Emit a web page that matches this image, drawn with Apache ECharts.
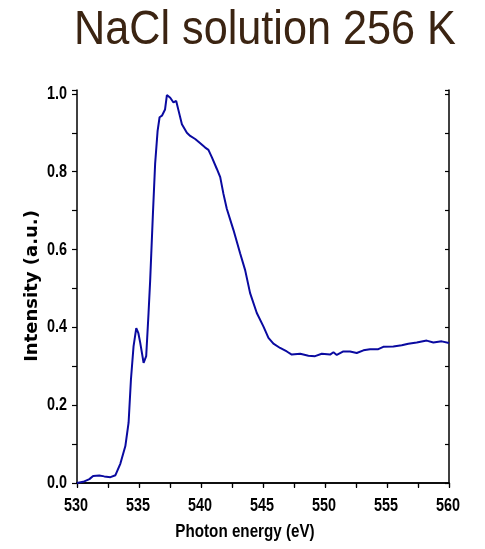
<!DOCTYPE html>
<html>
<head>
<meta charset="utf-8">
<script src="https://cdn.jsdelivr.net/npm/echarts@6/dist/echarts.min.js"></script>
<style>html,body{margin:0;padding:0;background:#fff}#c{width:485px;height:549px}</style>
</head>
<body>
<div id="c"></div>
<script>
var energy = [530, 530.5, 531, 531.3, 531.8, 532.2, 532.7, 533.1, 533.5, 533.9, 534.16, 534.35, 534.56, 534.78, 534.95, 535.1, 535.37, 535.58, 535.77, 535.9, 536.12, 536.3, 536.5, 536.66, 536.85, 536.98, 537.1, 537.25, 537.52, 537.78, 538.0, 538.19, 538.46, 538.86, 539.13, 539.53, 539.94, 540.1, 540.34, 540.6, 540.88, 541.28, 541.55, 541.81, 542.08, 542.62, 543.16, 543.56, 543.96, 544.5, 545.04, 545.44, 545.84, 546.38, 546.92, 547.32, 548.0, 548.66, 549.2, 549.74, 550.41, 550.68, 550.95, 551.48, 552.02, 552.56, 553.1, 553.63, 554.3, 554.7, 555.51, 556.19, 556.72, 557.4, 558.2, 558.74, 559.41, 560];
var intensity = [0.0, 0.003, 0.01, 0.018, 0.019, 0.017, 0.015, 0.02, 0.05, 0.095, 0.155, 0.266, 0.351, 0.398, 0.385, 0.36, 0.309, 0.326, 0.437, 0.52, 0.69, 0.82, 0.905, 0.94, 0.944, 0.94, 0.96, 0.997, 0.99, 0.978, 0.982, 0.957, 0.922, 0.9, 0.892, 0.884, 0.873, 0.876, 0.862, 0.856, 0.837, 0.807, 0.786, 0.743, 0.705, 0.65, 0.59, 0.547, 0.488, 0.437, 0.402, 0.373, 0.358, 0.347, 0.338, 0.33, 0.332, 0.327, 0.326, 0.332, 0.33, 0.336, 0.329, 0.338, 0.338, 0.334, 0.341, 0.344, 0.344, 0.35, 0.351, 0.354, 0.358, 0.361, 0.366, 0.361, 0.364, 0.36];
var xTickValues = [530, 535, 540, 545, 550, 555, 560];
var yTickValues = [0, 0.2, 0.4, 0.6, 0.8, 1.0];
var titleText = 'NaCl solution 256 K';
var xTitle = 'Photon energy (eV)';
var yTitle = 'Intensity (a.u.)';

var points = energy.map(function (e, i) { return [e, intensity[i]]; });
var sans = '"Liberation Sans", Arial, sans-serif';
var axisLine = { show: true, lineStyle: { color: '#000', width: 1.5 } };

var chart = echarts.init(document.getElementById('c'), null, { renderer: 'canvas' });
chart.setOption({
  animation: false,
  backgroundColor: '#fff',
  grid: { left: 77, right: 36, top: 90, bottom: 66, containLabel: false },
  xAxis: [{
    type: 'value', position: 'bottom', min: 530, max: 560, interval: 2.5,
    axisLine: axisLine,
    axisTick: { show: true, inside: false, length: 5, lineStyle: { color: '#000', width: 1.2 } },
    axisLabel: { show: false },
    splitLine: { show: false }
  }, {
    type: 'value', position: 'top', min: 530, max: 560, interval: 2.5,
    axisLine: axisLine,
    axisTick: { show: true, inside: true, length: 4, lineStyle: { color: '#000', width: 1.2 } },
    axisLabel: { show: false }, splitLine: { show: false }
  }],
  yAxis: [{
    type: 'value', position: 'left', min: 0, max: 1.01, interval: 0.1,
    axisLine: axisLine,
    axisTick: { show: true, inside: false, length: 5, lineStyle: { color: '#000', width: 1.2 } },
    axisLabel: { show: false },
    splitLine: { show: false }
  }, {
    type: 'value', position: 'right', min: 0, max: 1.01, interval: 0.1,
    axisLine: axisLine,
    axisTick: { show: true, inside: true, length: 4, lineStyle: { color: '#000', width: 1.2 } },
    axisLabel: { show: false }, splitLine: { show: false }
  }],
  series: [{
    type: 'line', xAxisIndex: 0, yAxisIndex: 0, data: points,
    showSymbol: false, smooth: false,
    lineStyle: { color: '#0a0aa0', width: 2 }
  }]
});

var g = [
  { type: 'text', x: 265, y: 31, scaleX: 0.9,
    style: { text: titleText, fill: '#3b2412', font: '48px ' + sans, align: 'center', verticalAlign: 'middle' } },
  { type: 'text', x: 245, y: 532, scaleX: 0.8,
    style: { text: xTitle, fill: '#000', font: 'bold 19px ' + sans, align: 'center', verticalAlign: 'middle' } },
  { type: 'text', x: 32, y: 286, rotation: Math.PI / 2,
    style: { text: yTitle, fill: '#000', font: 'bold 18px "DejaVu Sans", sans-serif', align: 'center', verticalAlign: 'middle' } }
];
xTickValues.forEach(function (v) {
  var px = chart.convertToPixel({ xAxisIndex: 0 }, v);
  g.push({ type: 'text', x: px - 1, y: 506, scaleX: 0.8,
    style: { text: String(v), fill: '#000', font: 'bold 18px ' + sans, align: 'center', verticalAlign: 'middle' } });
});
yTickValues.forEach(function (v) {
  var py = chart.convertToPixel({ yAxisIndex: 0 }, v);
  g.push({ type: 'text', x: 67, y: py, scaleX: 0.8,
    style: { text: v.toFixed(1), fill: '#000', font: 'bold 18px ' + sans, align: 'right', verticalAlign: 'middle' } });
});
chart.setOption({ graphic: g });
</script>
</body>
</html>
